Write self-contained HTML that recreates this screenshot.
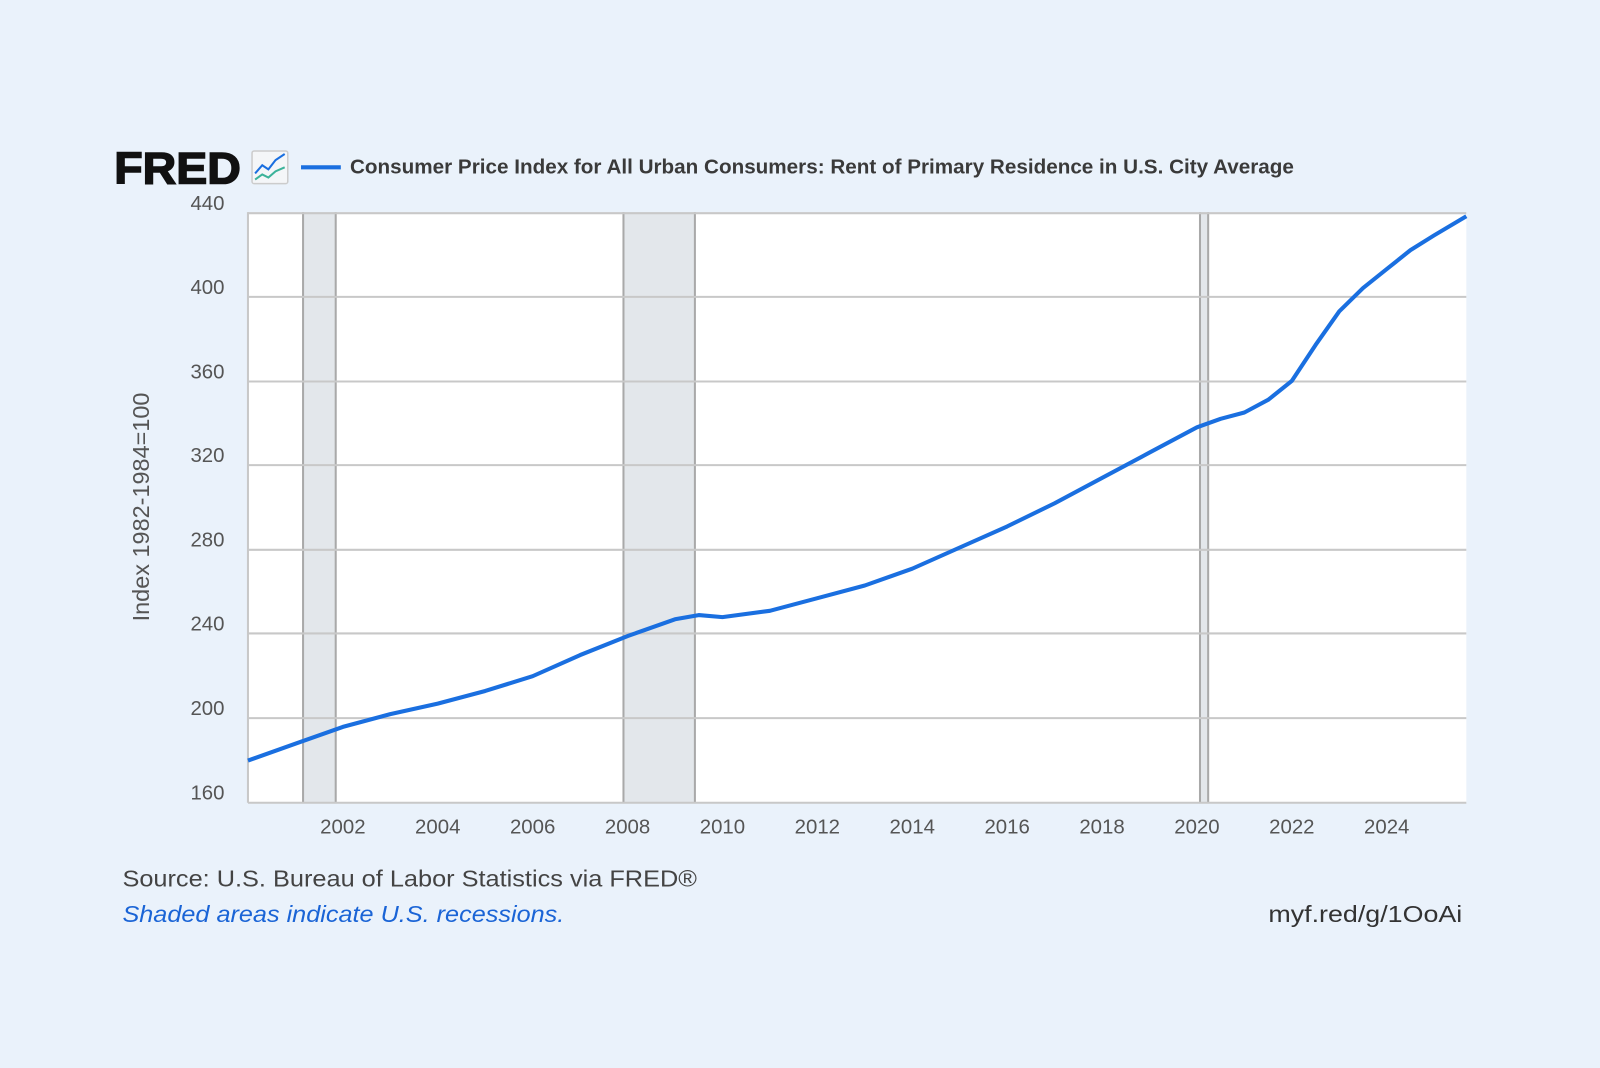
<!DOCTYPE html>
<html><head><meta charset="utf-8"><style>
html,body{margin:0;padding:0;background:#eaf2fb;}
svg{display:block}
</style></head><body>
<svg width="1600" height="1068" viewBox="0 0 1568 1047" preserveAspectRatio="none" xmlns="http://www.w3.org/2000/svg" font-family="Liberation Sans, sans-serif">
<rect width="1568" height="1047" fill="#eaf2fb"/>
<text x="112" y="180" font-size="44" font-weight="bold" fill="#111" stroke="#111" stroke-width="1.5" textLength="124" lengthAdjust="spacingAndGlyphs">FRED</text>
<rect x="247" y="148" width="35" height="32" fill="#f4f6f8" stroke="#ccc" stroke-width="1.5" rx="2"/>
<polyline points="250,170 257,162 263,166 270,157 279,151" fill="none" stroke="#1a6fe0" stroke-width="2"/>
<polyline points="250,176 257,171 263,174 270,168 279,164" fill="none" stroke="#3cb39a" stroke-width="2"/>
<line x1="295" y1="164" x2="334" y2="164" stroke="#1a6fe0" stroke-width="4"/>
<text x="343" y="170" font-size="20" font-weight="bold" fill="#3a3a3a" textLength="925" lengthAdjust="spacingAndGlyphs">Consumer Price Index for All Urban Consumers: Rent of Primary Residence in U.S. City Average</text>
<rect x="243" y="208" width="1194" height="579" fill="#fff"/>
<rect x="297" y="208" width="32" height="579" fill="#e3e7eb"/>
<rect x="611" y="208" width="70" height="579" fill="#e3e7eb"/>
<rect x="1176" y="208" width="8" height="579" fill="#e3e7eb"/>
<g stroke="#a9a9a9" stroke-width="2">
<line x1="297" y1="208" x2="297" y2="787"/><line x1="329" y1="208" x2="329" y2="787"/>
<line x1="611" y1="208" x2="611" y2="787"/><line x1="681" y1="208" x2="681" y2="787"/>
<line x1="1176" y1="208" x2="1176" y2="787"/><line x1="1184" y1="208" x2="1184" y2="787"/>
</g>
<g stroke="#c8c8c8" stroke-width="2">
<line x1="243" y1="209" x2="1437" y2="209"/>
<line x1="243" y1="291" x2="1437" y2="291"/>
<line x1="243" y1="374" x2="1437" y2="374"/>
<line x1="243" y1="456" x2="1437" y2="456"/>
<line x1="243" y1="539" x2="1437" y2="539"/>
<line x1="243" y1="621" x2="1437" y2="621"/>
<line x1="243" y1="704" x2="1437" y2="704"/>
<line x1="243" y1="787" x2="1437" y2="787"/>
<line x1="243" y1="208" x2="243" y2="787"/>
</g>
<polyline fill="none" stroke="#1a6fe0" stroke-width="4" stroke-linejoin="round" points="243,745.6 289.5,729.1 336,712.6 382.5,700.1 429,689.8 475.5,677.4 522,662.9 568.5,642.2 615,623.6 661.5,607.1 684.75,603 708,605 754.5,598.8 801,586.4 847.5,574 894,557.5 940.5,536.8 987,516.1 1033.5,493.4 1080,468.5 1126.5,443.7 1173,418.9 1196.25,410.6 1219.5,404.4 1242.75,392 1266,373.4 1289.25,338.2 1312.5,305.2 1335.75,282.4 1359,263.8 1382.25,245.2 1405.5,230.7 1437,212"/>
<g font-size="20" fill="#555" text-anchor="end">
<text x="220" y="206">440</text><text x="220" y="288">400</text><text x="220" y="371">360</text>
<text x="220" y="453">320</text><text x="220" y="536">280</text><text x="220" y="618">240</text>
<text x="220" y="701">200</text><text x="220" y="784">160</text>
</g>
<g font-size="20" fill="#555" text-anchor="middle">
<text x="336" y="817">2002</text><text x="429" y="817">2004</text><text x="522" y="817">2006</text>
<text x="615" y="817">2008</text><text x="708" y="817">2010</text><text x="801" y="817">2012</text>
<text x="894" y="817">2014</text><text x="987" y="817">2016</text><text x="1080" y="817">2018</text>
<text x="1173" y="817">2020</text><text x="1266" y="817">2022</text><text x="1359" y="817">2024</text>
</g>
<text transform="translate(146,497) rotate(-90)" font-size="23" fill="#555" text-anchor="middle">Index 1982-1984=100</text>
<text x="120" y="869" font-size="23" fill="#444" textLength="563" lengthAdjust="spacingAndGlyphs">Source: U.S. Bureau of Labor Statistics via FRED®</text>
<text x="120" y="904" font-size="23" font-style="italic" fill="#1a64d6" textLength="433" lengthAdjust="spacingAndGlyphs">Shaded areas indicate U.S. recessions.</text>
<text x="1243" y="904" font-size="23" fill="#333" textLength="190" lengthAdjust="spacingAndGlyphs">myf.red/g/1OoAi</text>
</svg>
</body></html>
